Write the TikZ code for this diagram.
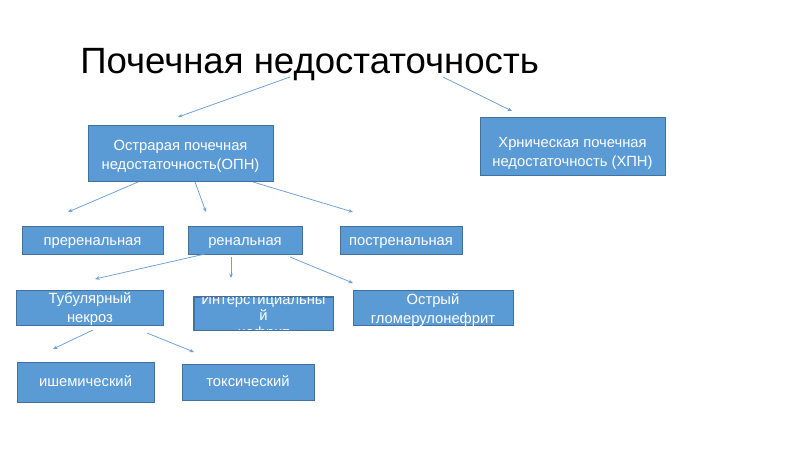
\documentclass[tikz,border=0pt]{standalone}
\usepackage{fontspec}
\setmainfont{Liberation Sans}
\usetikzlibrary{arrows.meta,positioning}

\definecolor{boxfill}{RGB}{91,155,213}
\definecolor{boxline}{RGB}{65,113,156}
\definecolor{linkc}{RGB}{110,160,215}

\begin{document}
\begin{tikzpicture}[
  x=0.025cm, y=-0.025cm,
  font=\fontsize{10.5}{13.5}\selectfont,
  link/.style={-{Stealth[length=3.2pt,width=2.6pt]}, line width=0.55pt, draw=linkc},
  box/.style={draw=boxline, line width=0.5pt, fill=boxfill, inner sep=0pt},
  txt/.style={text=white, align=center, inner sep=0pt},
  txt1/.style={text=white, inner sep=0pt, text height=0.72em, text depth=0.2em},
  sz/.style 2 args={minimum width=#1*0.025cm, minimum height=#2*0.025cm}
]

% Page frame (800 x 450 px).
\useasboundingbox (0,0) rectangle (800,450);

% Title.
\node[anchor=base west, inner sep=0pt, font=\fontsize{26}{30}\selectfont] (title)
  at (80,73) {Почечная недостаточность};

% First level.
\node[box, sz={185}{56}] (opn) at (180.5,153) {};
\node[txt] (opn-t) at ([yshift=-2.2pt]opn.center)
  {Острарая почечная\\недостаточность(ОПН)};
\node[box, sz={185}{58}] (hpn) at (572.5,146) {};
\node[txt] (hpn-t) at ([yshift=-5.6pt]hpn.center)
  {Хрническая почечная\\недостаточность (ХПН)};

% Second level.
\node[box, sz={141}{28}] (pre) at (92.5,240.5) {};
\node[txt1] (pre-t) at ([yshift=-0.6pt]pre.center) {преренальная};
\node[box, sz={114}{28}] (ren) at (245,240.5) {};
\node[txt1] (ren-t) at ([yshift=-0.6pt]ren.center) {ренальная};
\node[box, sz={122}{28}] (post) at (401,240.5) {};
\node[txt1] (post-t) at ([yshift=-0.6pt]post.center) {постренальная};

% Third level.
\node[box, sz={147}{35}] (tub) at (90,307.5) {};
\node[txt] (tub-t) at ([yshift=-1.4pt]tub.center) {Тубулярный\\некроз};
\node[box, sz={139}{33}] (inter) at (263.5,313.5) {};
\begin{scope}
  \clip (inter.south west) rectangle (inter.north east);
  \node[txt, font=\fontsize{10.5}{11.8}\selectfont] (inter-t)
    at ([yshift=-2.8pt]inter.center) {Интерстициальны\\й\\нефрит};
\end{scope}
\draw[boxline, line width=0.5pt] (inter.south west) rectangle (inter.north east);
\node[box, sz={160}{35}] (glom) at (433,307.5) {};
\node[txt] (glom-t) at ([yshift=-1.8pt]glom.center) {Острый\\гломерулонефрит};

% Fourth level.
\node[box, sz={137}{40}] (ish) at (85.5,382) {};
\node[txt1] (ish-t) at ([yshift=-0.4pt]ish.center) {ишемический};
\node[box, sz={132}{36}] (tox) at (248,382) {};
\node[txt1] (tox-t) at ([yshift=-0.4pt]tox.center) {токсический};

% Free arrow ends (the arrows float between the boxes).
\coordinate (t-a) at (290,77);   \coordinate (opn-in) at (178,117);
\coordinate (t-b) at (443,77);   \coordinate (hpn-in) at (512,111);
\coordinate (o-a) at (138,182);  \coordinate (pre-in) at (68,212);
\coordinate (o-b) at (195,182);  \coordinate (ren-in) at (206,212);
\coordinate (o-c) at (253,182);  \coordinate (post-in) at (353,212);
\coordinate (r-a) at (205,254);  \coordinate (tub-in) at (95,279);
\coordinate (r-b) at (231,257);  \coordinate (inter-in) at (231,278);
\coordinate (r-c) at (290,257);  \coordinate (glom-in) at (353,283);
\coordinate (k-a) at (93,330);   \coordinate (ish-in) at (53,349);
\coordinate (k-b) at (147,333);  \coordinate (tox-in) at (194,352);

% Arrows.
\draw[link] (t-a) -- (opn-in);
\draw[link] (t-b) -- (hpn-in);
\draw[link] (o-a) -- (pre-in);
\draw[link] (o-b) -- (ren-in);
\draw[link] (o-c) -- (post-in);
\draw[link] (r-a) -- (tub-in);
\draw[link] (r-b) -- (inter-in);
\draw[link] (r-c) -- (glom-in);
\draw[link] (k-a) -- (ish-in);
\draw[link] (k-b) -- (tox-in);

\end{tikzpicture}
\end{document}
